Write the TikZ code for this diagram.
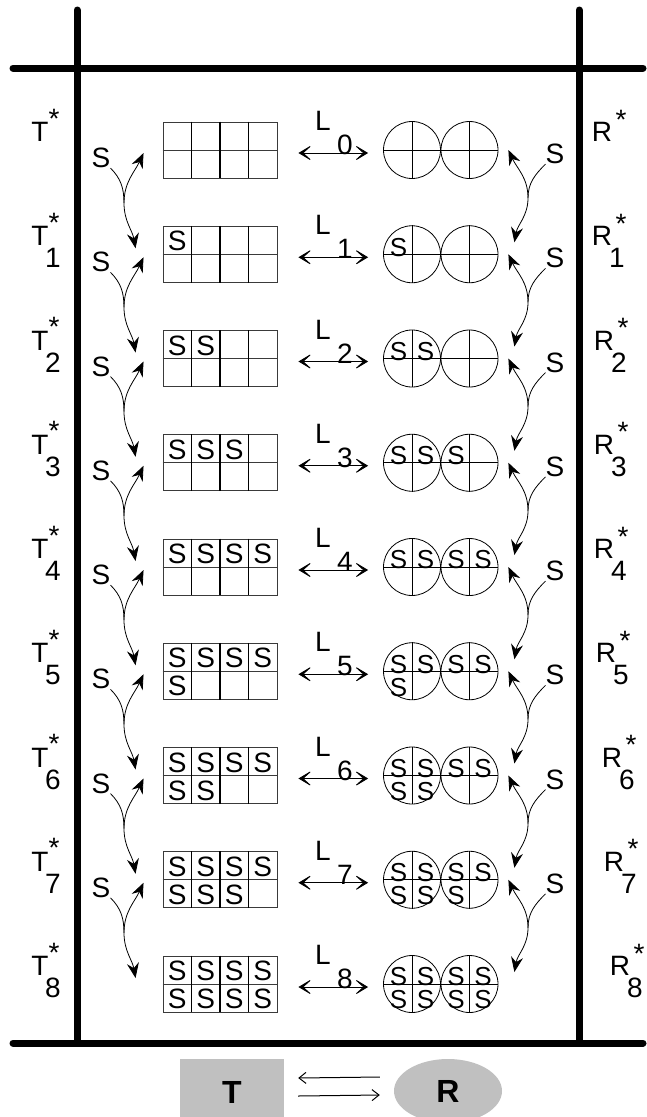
\documentclass[tikz,border=0pt]{standalone}
\usepackage{fontspec}
\setmainfont{Liberation Sans}
\usetikzlibrary{arrows.meta, shapes.geometric, calc}
\definecolor{GrayF}{HTML}{C0C0C0}
\definecolor{GrayL}{HTML}{3A3A3A}
\tikzset{
  wall/.style={line width=7pt, line cap=round},
  grid/.style={draw=GrayL, line width=0.9pt, minimum width=114pt,
               minimum height=56pt, inner sep=0pt},
  ring/.style={circle, draw, line width=0.8pt, minimum size=57pt, inner sep=0pt},
  txt/.style={font=\fontsize{28}{32}\selectfont, inner sep=0pt},
  ctxt/.style={font=\fontsize{26}{30}\selectfont, inner sep=0pt},
  darr/.style={{Stealth[length=15pt,width=18pt,inset=10pt]}-{Stealth[length=15pt,width=18pt,inset=10pt]},
               line width=0.8pt},
  carr/.style={-{Stealth[length=15pt,width=12pt,inset=5pt]}, line width=0.8pt},
  harr/.style={-{Straight Barb[length=7pt,width=11pt]}, line width=1pt},
  slot/.style={fill=GrayF, font=\fontsize{32}{36}\selectfont\bfseries, inner sep=0pt},
}

\begin{document}
\begin{tikzpicture}[x=1pt, y=-1pt]
  \useasboundingbox (0,0) rectangle (647,1117);
  % walls
  \draw[wall] (13,68) -- (643,68);
  \draw[wall] (13,1043) -- (643,1043);
  \draw[wall] (77,10) -- (77,1043);
  \draw[wall] (579,10) -- (579,1043);

  \foreach \i/\rx in {0/602,1/602,2/604,3/604,4/604,5/606,6/612,7/614,8/620} {
    \pgfmathsetmacro{\y}{150+104.25*\i}
    \node[grid] (g\i) at (220,\y) {};
    \draw[draw=GrayL, line width=0.9pt] (g\i.west) -- (g\i.east);
    \foreach \c in {1,2,3}
      \draw[line width=1.2pt] ($(g\i.north west)!\c/4!(g\i.north east)$)
                           -- ($(g\i.south west)!\c/4!(g\i.south east)$);
    \node[ring] (ca\i) at (412,\y) {};
    \node[ring] (cb\i) at (469.5,\y) {};
    \draw[line width=0.8pt] (ca\i.west) -- (cb\i.east);
    \draw[line width=0.8pt] (ca\i.north) -- (ca\i.south);
    \draw[line width=0.8pt] (cb\i.north) -- (cb\i.south);
    \ifnum\i>0
      \foreach \k in {1,...,\i} {
        \pgfmathtruncatemacro{\col}{mod(\k-1,4)}
        \pgfmathtruncatemacro{\row}{div(\k-1,4)}
        \pgfmathsetmacro{\cx}{412+57.5*div(\col,2)+27*mod(\col,2)-13.5}
        \node[txt] (sg\i-\k) at (177.25+28.5*\col, \y-13+28*\row) {S};
        \node[ctxt] (sc\i-\k) at (\cx, \y-7+23*\row) {S};
      }
    \fi
    \draw[darr] ([shift={(21pt,-3pt)}]g\i.east) -- ([shift={(-15pt,-3pt)}]ca\i.west);
    \node[txt] (L\i) at (323,\y-29) {L};
    \node[txt] (l\i) at (345,\y-5) {\i};
    % side labels
    \node[txt] (T\i) at (40,\y-18) {T};
    \node[txt, anchor=base] (Ts\i) at (54,\y-22) {*};
    \node[txt] (R\i) at (\rx,\y-18) {R};
    \node[txt, anchor=base] (Rs\i) at (\rx+19,\y-21) {*};
    \ifnum\i>0
      \node[txt] (Tn\i) at (53,\y+4) {\i};
      \node[txt] (Rn\i) at (\rx+15,\y+4) {\i};
    \fi
  }

  \foreach \i in {0,...,7} {
    \pgfmathsetmacro{\y}{150+104.25*\i}
    \pgfmathtruncatemacro{\j}{\i+1}
    \node[txt] (sl\i) at (101,\y+8) {S};
    \coordinate (jl\i) at (124,\y+53);
    \draw[carr] (sl\i.south east) to[out=-45,in=90] (jl\i)
                to[out=-90,in=100] ($(g\j.west)+(-27pt,6pt)$);
    \draw[carr] (jl\i) to[out=90,in=-115] ([shift={(-19pt,-3pt)}]g\i.west);
    \node[txt] (sr\i) at (555,\y+4) {S};
    \coordinate (jr\i) at (528,\y+48);
    \draw[carr] (sr\i.south west) to[out=-135,in=90] (jr\i)
                to[out=-90,in=80] ($(cb\j.east)+(16pt,12pt)$);
    \draw[carr] (jr\i) to[out=90,in=-65] ([shift={(10pt,0pt)}]cb\i.east);
  }

  % legend
  \node[slot, minimum width=104pt, minimum height=66pt] (T) at (232,1092) {T};
  \node[slot, ellipse, minimum width=108pt, minimum height=64pt] (R) at (448,1091) {R};
  \draw[harr] ([shift={(-14pt,14pt)}]R.west) -- ([shift={(14pt,14pt)}]T.east);
  \draw[harr] ([shift={(14pt,-4pt)}]T.east) -- ([shift={(-14pt,-4pt)}]R.west);
\end{tikzpicture}
\end{document}
